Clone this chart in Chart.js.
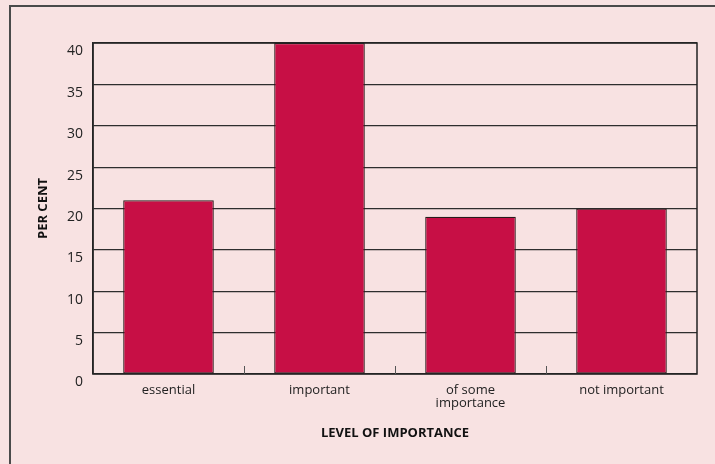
<!DOCTYPE html>
<html>
<head>
<meta charset="utf-8">
<script src="https://cdn.jsdelivr.net/npm/chart.js@4.4.1/dist/chart.umd.min.js"></script>
<style>
  html, body { margin: 0; padding: 0; background: #f8e2e2; overflow: hidden; }
  #wrap { position: relative; width: 715px; height: 464px; }
  #frame { position: absolute; left: 9px; top: 5px; width: 720px; height: 470px;
           border-left: 2px solid #4a4a4a; border-top: 2px solid #4a4a4a; }
  canvas { position: absolute; left: 0; top: 0; }
</style>
</head>
<body>
<div id="wrap">
  <div id="frame"></div>
  <canvas id="c" width="715" height="464"></canvas>
</div>
<script>
const categories = ['essential', 'important', ['of some', 'importance'], 'not important'];
const percentValues = [21, 40, 19, 20];
const yTicks = [0, 5, 10, 15, 20, 25, 30, 35, 40];
const yTitle = 'PER CENT';
const xTitle = 'LEVEL OF IMPORTANCE';

const frameAndTicks = {
  id: 'frameAndTicks',
  afterDatasetsDraw(chart) {
    const {ctx, chartArea: a, scales: {x}} = chart;
    ctx.save();
    ctx.strokeStyle = '#222';
    ctx.lineWidth = 1.5;
    ctx.strokeRect(a.left, a.top, a.right - a.left, a.bottom - a.top);
    ctx.lineWidth = 1;
    ctx.strokeStyle = '#555';
    for (let i = 1; i < categories.length; i++) {
      const px = Math.round((x.getPixelForTick(i - 1) + x.getPixelForTick(i)) / 2) + 0.5;
      ctx.beginPath();
      ctx.moveTo(px, a.bottom);
      ctx.lineTo(px, a.bottom - 8);
      ctx.stroke();
    }
    ctx.restore();
  }
};

new Chart(document.getElementById('c'), {
  type: 'bar',
  data: {
    labels: categories,
    datasets: [{
      data: percentValues,
      backgroundColor: '#c70f45',
      borderColor: '#2a1c1c',
      borderWidth: 1.2,
      borderSkipped: false,
      categoryPercentage: 1.0,
      barPercentage: 0.6
    }]
  },
  options: {
    responsive: false,
    animation: false,
    devicePixelRatio: 1,
    layout: { padding: { top: 43, right: 18, left: 0, bottom: 0 } },
    plugins: { legend: { display: false }, tooltip: { enabled: false } },
    scales: {
      x: {
        grid: { display: false, drawTicks: false },
        border: { display: false },
        ticks: {
          color: '#222',
          padding: 9,
          maxRotation: 0,
          autoSkip: false,
          font: { family: 'Open Sans', size: 13, lineHeight: 1.05 }
        },
        title: {
          display: true,
          text: xTitle,
          color: '#111',
          font: { family: 'Open Sans', size: 13, weight: 'bold' },
          padding: { top: 0, bottom: 23 }
        },
        afterFit(s) { s.height = 90; }
      },
      y: {
        min: 0, max: 40,
        afterBuildTicks(s) { s.ticks = yTicks.map(v => ({ value: v })); },
        grid: { color: '#2e2e2e', lineWidth: 1.2, drawTicks: false },
        border: { display: true, color: '#2e2e2e', width: 1.5 },
        ticks: {
          color: '#222',
          padding: 10,
          labelOffset: 8.5,
          font: { family: 'Open Sans', size: 14 }
        },
        title: {
          display: true,
          text: yTitle,
          color: '#111',
          font: { family: 'Open Sans', size: 13, weight: 'bold' },
          padding: { top: 35, bottom: 0 }
        },
        afterFit(s) { s.width = 93; }
      }
    }
  },
  plugins: [frameAndTicks]
});
</script>
</body>
</html>
